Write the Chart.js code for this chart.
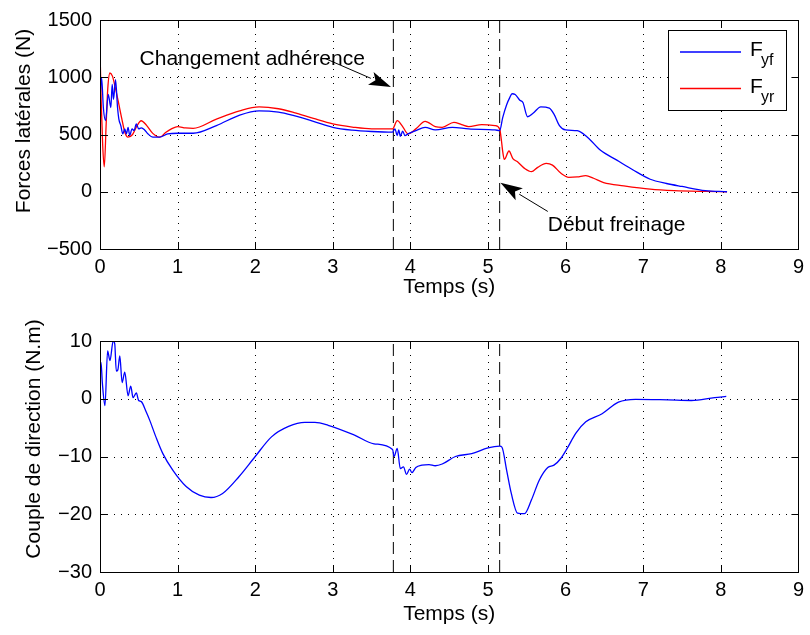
<!DOCTYPE html>
<html>
<head>
<meta charset="utf-8">
<script src="https://cdn.jsdelivr.net/npm/chart.js@4.4.1/dist/chart.umd.min.js"></script>
<style>
  body { margin: 0; background: #fff; }
  #wrap { position: relative; width: 810px; height: 635px; }
  canvas { position: absolute; left: 0; }
</style>
</head>
<body>
<div id="wrap">
  <canvas id="forceChart" width="810" height="300" style="top:0px"></canvas>
  <canvas id="coupleChart" width="810" height="335" style="top:300px"></canvas>
</div>
<script>
const FONT = "'Liberation Sans', Arial, Helvetica, sans-serif";

// axes
const timeTicks = [0, 1, 2, 3, 4, 5, 6, 7, 8, 9];
const forceTicks = [-500, 0, 500, 1000, 1500];
const coupleTicks = [-30, -20, -10, 0, 10];

// instants marqués par les traits verticaux (changement adhérence, début freinage)
const eventTimes = [3.78, 5.15];

// force latérale avant
const tFyf = [0, 0.021, 0.043, 0.072, 0.106, 0.14, 0.157, 0.174, 0.2, 0.226, 0.243, 0.268, 0.294, 0.319, 0.34, 0.362,
  0.383, 0.413, 0.438, 0.468, 0.498, 0.532, 0.575, 0.617, 0.681, 0.766, 0.873, 1.0, 1.2, 1.5, 1.8, 2.05, 2.3, 2.5,
  2.75, 3.0, 3.25, 3.5, 3.77, 3.8, 3.83, 3.85, 3.87, 3.9, 3.93, 3.97, 4.07, 4.19, 4.32, 4.54, 4.75, 5.09, 5.15, 5.19,
  5.24, 5.28, 5.31, 5.35, 5.41, 5.45, 5.51, 5.58, 5.68, 5.79, 5.85, 5.92, 6.0, 6.15, 6.28, 6.45, 6.66, 6.87, 7.09,
  7.3, 7.5, 7.8, 8.08];
const Fyf = [820, 994, 736, 621, 851, 736, 937, 807, 980, 736, 635, 578, 506, 549, 506, 563,
  491, 549, 534, 592, 549, 558, 540, 506, 477, 477, 505, 511, 511, 578, 670, 707, 695, 664,
  615, 563, 538, 526, 520, 549, 491, 540, 483, 530, 490, 506, 534, 563, 540, 563, 549, 540, 534, 650,
  760, 822, 856, 850, 799, 779, 655, 685, 741, 730, 678, 578, 540, 534, 477, 362, 276, 190, 109,
  72, 46, 10, 0];

// force latérale arrière
const tFyr = [0, 0.015, 0.035, 0.055, 0.08, 0.1, 0.128, 0.16, 0.2, 0.234, 0.28, 0.32, 0.36, 0.42, 0.48, 0.53,
  0.6, 0.68, 0.77, 0.85, 0.92, 1.0, 1.1, 1.2, 1.5, 1.8, 2.05, 2.3, 2.5, 2.75, 3.0, 3.25, 3.5, 3.77, 3.83, 3.9,
  3.97, 4.07, 4.19, 4.32, 4.41, 4.56, 4.66, 4.75, 4.92, 5.09, 5.15, 5.17, 5.19, 5.21, 5.27, 5.32, 5.38, 5.47,
  5.56, 5.64, 5.75, 5.83, 5.94, 6.04, 6.15, 6.26, 6.36, 6.49, 6.75, 7.09, 7.4, 7.8, 8.08];
const Fyr = [1250, 800, 400, 218, 600, 900, 1037, 1010, 900, 793, 640, 520, 477, 500, 580, 620,
  580, 510, 477, 520, 549, 569, 558, 554, 635, 707, 741, 725, 692, 640, 592, 565, 549, 549, 621, 569,
  506, 549, 615, 569, 563, 606, 586, 569, 586, 578, 549, 463, 348, 282, 356, 290, 261, 204,
  175, 213, 247, 233, 161, 126, 130, 141, 118, 80, 52, 23, 10, 3, 0];

// couple de direction
const tCouple = [0, 0.013, 0.03, 0.064, 0.098, 0.128, 0.17, 0.19, 0.21, 0.23, 0.255, 0.285, 0.319, 0.362, 0.396,
  0.426, 0.468, 0.498, 0.532, 0.596, 0.64, 0.72, 0.81, 0.94, 1.11, 1.28, 1.43, 1.58, 1.79, 2.0, 2.21, 2.43, 2.64,
  2.77, 2.94, 3.28, 3.53, 3.77, 3.79, 3.83, 3.87, 3.91, 3.95, 3.99, 4.02, 4.07, 4.15, 4.24, 4.32, 4.41, 4.58,
  4.79, 5.0, 5.15, 5.18, 5.24, 5.3, 5.38, 5.47, 5.56, 5.66, 5.77, 5.85, 5.94, 6.02, 6.13, 6.26, 6.47, 6.68,
  6.9, 7.32, 7.62, 7.92, 8.07];
const couple = [5, 6.3, 2.8, -1.2, 8.3, 6.6, 10, 9.5, 4.8, 5, 7.4, 2.8, 4.6, 0.5, 2.2,
  0.2, 1, -0.3, -0.5, -2.3, -3.7, -6.6, -9.5, -12.4, -15.2, -16.7, -17.1, -16.4, -13.5, -10, -6.6, -4.8, -4.1,
  -4.1, -4.6, -6.3, -7.8, -8.8, -10, -8.6, -12.1, -11.8, -13.1, -12.2, -12.8, -11.9, -11.5, -11.4, -11.6, -11.3, -10,
  -9.5, -8.5, -8.2, -8.4, -12.4, -16.4, -19.8, -19.9, -17.5, -14.1, -11.9, -11.5, -10.3, -8.6, -6, -4, -2.6, -0.6,
  -0.1, -0.2, -0.3, 0.2, 0.4];

// légende (lettre + indice)
const seriesNames = [['F', 'yf'], ['F', 'yr']];

// annotations : texte (bord gauche, ligne de base) et flèches, en coordonnées des données
const noteTexts = ['Changement adhérence', 'Début freinage'];
const notePos = [[0.51, 1103], [5.77, -342]];
const arrowFrom = [[2.9, 1164], [5.77, -172]];
const arrowTo = [[3.75, 914], [5.16, 78]];

function toPoints(ts, vs) {
  return ts.map((t, i) => ({ x: t, y: vs[i] }));
}

function fmtTick(value) {
  return String(value).replace('-', '\u2212');
}

const lineStyle = { borderWidth: 1.3, pointRadius: 0, fill: false, cubicInterpolationMode: 'monotone' };

function eventLines(yMin, yMax) {
  return eventTimes.map((t) => ({
    data: [{ x: t, y: yMin }, { x: t, y: yMax }],
    borderColor: '#000', borderWidth: 1, borderDash: [12, 6], pointRadius: 0, fill: false
  }));
}

// grille pointillée, cadre et graduations vers l'intérieur (style MATLAB)
const matlabAxes = {
  id: 'matlabAxes',
  beforeDatasetsDraw(chart) {
    const { ctx, chartArea: a, scales } = chart;
    ctx.save();
    ctx.strokeStyle = '#000';
    ctx.lineWidth = 1;
    ctx.setLineDash([1, 6]);
    ctx.beginPath();
    scales.x.ticks.forEach((tk) => {
      const px = Math.round(scales.x.getPixelForValue(tk.value)) + 0.5;
      if (px < a.left + 2 || px > a.right - 2) return;
      ctx.moveTo(px, a.top);
      ctx.lineTo(px, a.bottom);
    });
    scales.y.ticks.forEach((tk) => {
      const py = Math.round(scales.y.getPixelForValue(tk.value)) + 0.5;
      if (py < a.top + 2 || py > a.bottom - 2) return;
      ctx.moveTo(a.left, py);
      ctx.lineTo(a.right, py);
    });
    ctx.stroke();
    ctx.restore();
  },
  afterDatasetsDraw(chart, args, opts) {
    const { ctx, chartArea: a, scales } = chart;
    const len = 7;
    ctx.save();
    ctx.strokeStyle = '#000';
    ctx.lineWidth = 1;
    ctx.strokeRect(Math.round(a.left) + 0.5, Math.round(a.top) + 0.5,
      Math.round(a.right - a.left), Math.round(a.bottom - a.top));
    ctx.beginPath();
    scales.x.ticks.forEach((tk) => {
      const px = Math.round(scales.x.getPixelForValue(tk.value)) + 0.5;
      ctx.moveTo(px, a.bottom);
      ctx.lineTo(px, a.bottom - len);
      ctx.moveTo(px, a.top);
      ctx.lineTo(px, a.top + len);
    });
    scales.y.ticks.forEach((tk) => {
      const py = Math.round(scales.y.getPixelForValue(tk.value)) + 0.5;
      ctx.moveTo(a.left, py);
      ctx.lineTo(a.left + len, py);
      ctx.moveTo(a.right, py);
      ctx.lineTo(a.right - len, py);
    });
    ctx.stroke();

    // titre de l'axe y
    ctx.fillStyle = '#000';
    ctx.font = '21px ' + FONT;
    ctx.translate(opts.titleX, opts.titleY);
    ctx.rotate(-Math.PI / 2);
    ctx.textAlign = 'center';
    ctx.textBaseline = 'middle';
    ctx.fillText(opts.text, 0, 0);
    ctx.restore();
  }
};

// légende avec indices
const subLegend = {
  id: 'subLegend',
  afterDraw(chart) {
    const { ctx, chartArea: a } = chart;
    const w = 118, h = 80;
    const left = Math.round(a.right - 12 - w), top = Math.round(a.top + 10);
    ctx.save();
    ctx.fillStyle = '#fff';
    ctx.fillRect(left, top, w, h);
    ctx.strokeStyle = '#000';
    ctx.lineWidth = 1;
    ctx.strokeRect(left + 0.5, top + 0.5, w, h);
    seriesNames.forEach((name, i) => {
      const ds = chart.data.datasets[i];
      const ly = top + 22 + i * 36.5;
      ctx.strokeStyle = ds.borderColor;
      ctx.lineWidth = 1.3;
      ctx.beginPath();
      ctx.moveTo(left + 12, ly);
      ctx.lineTo(left + 73, ly);
      ctx.stroke();
      ctx.fillStyle = '#000';
      ctx.textAlign = 'left';
      ctx.textBaseline = 'alphabetic';
      ctx.font = '21px ' + FONT;
      ctx.fillText(name[0], left + 82, ly + 4);
      ctx.font = '16px ' + FONT;
      ctx.fillText(name[1], left + 93, ly + 13);
    });
    ctx.restore();
  }
};

// textes et flèches
const arrowNotes = {
  id: 'arrowNotes',
  afterDraw(chart) {
    const { ctx, scales: { x, y } } = chart;
    ctx.save();
    ctx.fillStyle = '#000';
    ctx.strokeStyle = '#000';
    ctx.font = '21px ' + FONT;
    ctx.textAlign = 'left';
    ctx.textBaseline = 'alphabetic';
    noteTexts.forEach((txt, i) => {
      ctx.fillText(txt, x.getPixelForValue(notePos[i][0]), y.getPixelForValue(notePos[i][1]));
      const x0 = x.getPixelForValue(arrowFrom[i][0]), y0 = y.getPixelForValue(arrowFrom[i][1]);
      const x1 = x.getPixelForValue(arrowTo[i][0]), y1 = y.getPixelForValue(arrowTo[i][1]);
      const ang = Math.atan2(y1 - y0, x1 - x0);
      const hl = 22, hw = 7;
      const bx = x1 - hl * Math.cos(ang), by = y1 - hl * Math.sin(ang);
      ctx.lineWidth = 1;
      ctx.beginPath();
      ctx.moveTo(x0, y0);
      ctx.lineTo(bx, by);
      ctx.stroke();
      ctx.beginPath();
      ctx.moveTo(x1, y1);
      ctx.lineTo(bx + hw * Math.sin(ang), by - hw * Math.cos(ang));
      ctx.lineTo(bx + 5 * Math.cos(ang), by + 5 * Math.sin(ang));
      ctx.lineTo(bx - hw * Math.sin(ang), by + hw * Math.cos(ang));
      ctx.closePath();
      ctx.fill();
    });
    ctx.restore();
  }
};

function chartOptions(yMin, yMax, yTicks, padTop, xAxisHeight, xTitleBottom, yTitle, yTitleX, yTitleY) {
  return {
    responsive: false,
    animation: false,
    devicePixelRatio: 1,
    layout: { padding: { top: padTop, right: 5, left: 0, bottom: 0 } },
    scales: {
      x: {
        type: 'linear', min: 0, max: 9,
        afterBuildTicks: (s) => { s.ticks = timeTicks.map((v) => ({ value: v })); },
        afterFit: (s) => { s.height = xAxisHeight; },
        grid: { display: false, drawTicks: false },
        border: { display: false },
        ticks: { color: '#000', font: { family: FONT, size: 20 }, padding: 6, maxRotation: 0, callback: fmtTick },
        title: {
          display: true, text: 'Temps (s)', color: '#000',
          font: { family: FONT, size: 21 }, padding: { top: 0, bottom: xTitleBottom }
        }
      },
      y: {
        type: 'linear', min: yMin, max: yMax,
        afterBuildTicks: (s) => { s.ticks = yTicks.map((v) => ({ value: v })); },
        afterFit: (s) => { s.width = 100; },
        grid: { display: false, drawTicks: false },
        border: { display: false },
        ticks: { color: '#000', font: { family: FONT, size: 20 }, padding: 8, callback: fmtTick }
      }
    },
    plugins: {
      legend: { display: false },
      tooltip: { enabled: false },
      matlabAxes: { text: yTitle, titleX: yTitleX, titleY: yTitleY }
    }
  };
}

new Chart(document.getElementById('forceChart'), {
  type: 'line',
  data: {
    datasets: [
      { label: 'Fyf', data: toPoints(tFyf, Fyf), borderColor: '#0000ff', ...lineStyle },
      { label: 'Fyr', data: toPoints(tFyr, Fyr), borderColor: '#ff0000', ...lineStyle },
      ...eventLines(-500, 1500)
    ]
  },
  options: chartOptions(-500, 1500, forceTicks, 18, 51, 0, 'Forces latérales (N)', 24, 121),
  plugins: [matlabAxes, subLegend, arrowNotes]
});

new Chart(document.getElementById('coupleChart'), {
  type: 'line',
  data: {
    datasets: [
      { label: 'Couple', data: toPoints(tCouple, couple), borderColor: '#0000ff', ...lineStyle },
      ...eventLines(-30, 10)
    ]
  },
  options: chartOptions(-30, 10, coupleTicks, 41, 63, 8, 'Couple de direction (N.m)', 34, 139),
  plugins: [matlabAxes]
});
</script>
</body>
</html>
